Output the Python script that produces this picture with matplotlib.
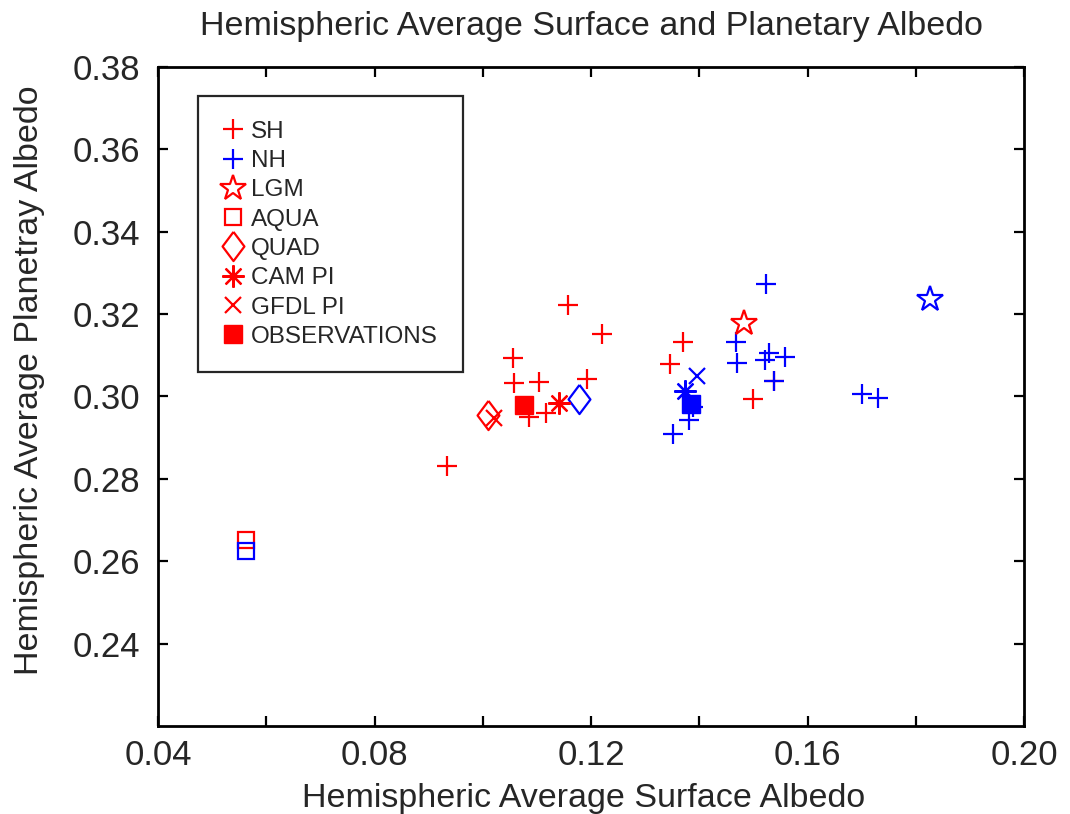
import numpy as np
import matplotlib
matplotlib.use("Agg")
import matplotlib.pyplot as plt
from matplotlib.ticker import MultipleLocator

plt.rcParams['font.family'] = ['Liberation Sans', 'DejaVu Sans']

## Data (surface albedo, planetary albedo)
sh_x = [0.1158, 0.1220, 0.1056, 0.1058, 0.1104, 0.1193, 0.1086, 0.1117, 0.0934,
        0.1370, 0.1346, 0.1499, 0.1538]
sh_y = [0.3222, 0.3152, 0.3094, 0.3033, 0.3035, 0.3042, 0.2950, 0.2960, 0.2831,
        0.3132, 0.3079, 0.2994, 0.3038]
nh_x = [0.1523, 0.1468, 0.1470, 0.1521, 0.1529, 0.1558, 0.1538, 0.1381, 0.1351,
        0.1388, 0.1701, 0.1730]
nh_y = [0.3273, 0.3132, 0.3081, 0.3089, 0.3106, 0.3096, 0.3038, 0.2943, 0.2909,
        0.2975, 0.3006, 0.2996]

lgm_x = [0.1483, 0.1826]   # SH, NH
lgm_y = [0.3178, 0.3237]
aqua_x = [0.0563, 0.0563]
aqua_y = [0.2652, 0.2625]
quad_x = [0.1010, 0.1178]
quad_y = [0.2955, 0.2994]
cam_x = [0.1141, 0.1374]
cam_y = [0.2984, 0.3013]
gfdl_x = [0.1021, 0.1396]
gfdl_y = [0.2948, 0.3050]
obs_x = [0.1076, 0.1385]
obs_y = [0.2979, 0.2982]

red = '#ff0000'
blue = '#0000ff'
txt = '#262626'
diamond = [(0, 1), (0.75, 0), (0, -1), (-0.75, 0), (0, 1)]

fig = plt.figure(figsize=(10.7, 8.14), dpi=100)
ax = fig.add_axes([0.1477, 0.108, 0.8093, 0.810])

lw = 1.6
ax.plot(sh_x, sh_y, '+', color=red, ms=15, mew=lw, ls='none', label='SH')
ax.plot(nh_x, nh_y, '+', color=blue, ms=15, mew=lw, ls='none', label='NH')
ax.plot(lgm_x[0], lgm_y[0], '*', color=red, mfc='none', ms=19, mew=lw, ls='none', label='LGM')
ax.plot(lgm_x[1], lgm_y[1], '*', color=blue, mfc='none', ms=19, mew=lw, ls='none')
ax.plot(aqua_x[0], aqua_y[0], 's', color=red, mfc='none', ms=12, mew=lw, ls='none', label='AQUA')
ax.plot(aqua_x[1], aqua_y[1], 's', color=blue, mfc='none', ms=12, mew=lw, ls='none')
ax.plot(quad_x[0], quad_y[0], marker=diamond, color=red, mfc='none', ms=21, mew=lw, ls='none', label='QUAD')
ax.plot(quad_x[1], quad_y[1], marker=diamond, color=blue, mfc='none', ms=21, mew=lw, ls='none')
ax.plot(cam_x[0], cam_y[0], marker=(8, 2, 0), color=red, ms=16, mew=lw, ls='none', label='CAM PI')
ax.plot(cam_x[1], cam_y[1], marker=(8, 2, 0), color=blue, ms=16, mew=lw, ls='none')
ax.plot(gfdl_x[0], gfdl_y[0], 'x', color=red, ms=12, mew=lw, ls='none', label='GFDL PI')
ax.plot(gfdl_x[1], gfdl_y[1], 'x', color=blue, ms=12, mew=lw, ls='none')
ax.plot(obs_x[0], obs_y[0], 's', color=red, ms=13, ls='none', label='OBSERVATIONS')
ax.plot(obs_x[1], obs_y[1], 's', color=blue, ms=13, ls='none')

ax.set_xlim(0.04, 0.20)
ax.set_ylim(0.22, 0.38)
ax.xaxis.set_major_locator(MultipleLocator(0.04))
ax.xaxis.set_minor_locator(MultipleLocator(0.02))
ax.set_yticks(np.arange(0.24, 0.3801, 0.02))
ax.xaxis.set_major_formatter(plt.FuncFormatter(lambda v, p: '%.2f' % v))
ax.yaxis.set_major_formatter(plt.FuncFormatter(lambda v, p: '%.2f' % v))
ax.tick_params(which='both', direction='in', top=True, right=True, width=1.6,
               length=7, labelsize=25, labelcolor=txt)
ax.tick_params(axis='y', pad=13)
ax.tick_params(axis='x', pad=9)
for s in ax.spines.values():
    s.set_linewidth(2)

ax.set_title("Hemispheric Average Surface and Planetary Albedo", fontsize=24.5,
             color=txt, pad=23)
ax.set_xlabel("Hemispheric Average Surface Albedo", fontsize=24.5, color=txt)
ax.set_ylabel("Hemispheric Average Planetray Albedo", fontsize=24.5, color=txt)
ax.xaxis.set_label_coords(0.491, -0.086)
ax.yaxis.set_label_coords(-0.130, 0.525)

leg = ax.legend(loc='upper left', bbox_to_anchor=(0.046, 0.955), borderaxespad=0,
                fontsize=17.5, fancybox=False, edgecolor=txt, framealpha=1,
                handlelength=0.9, handletextpad=0.3, labelspacing=0.3, borderpad=1.0,
                numpoints=1)
leg.get_frame().set_linewidth(1.6)
for t in leg.get_texts():
    t.set_color(txt)

plt.savefig('out.png', dpi=100)
